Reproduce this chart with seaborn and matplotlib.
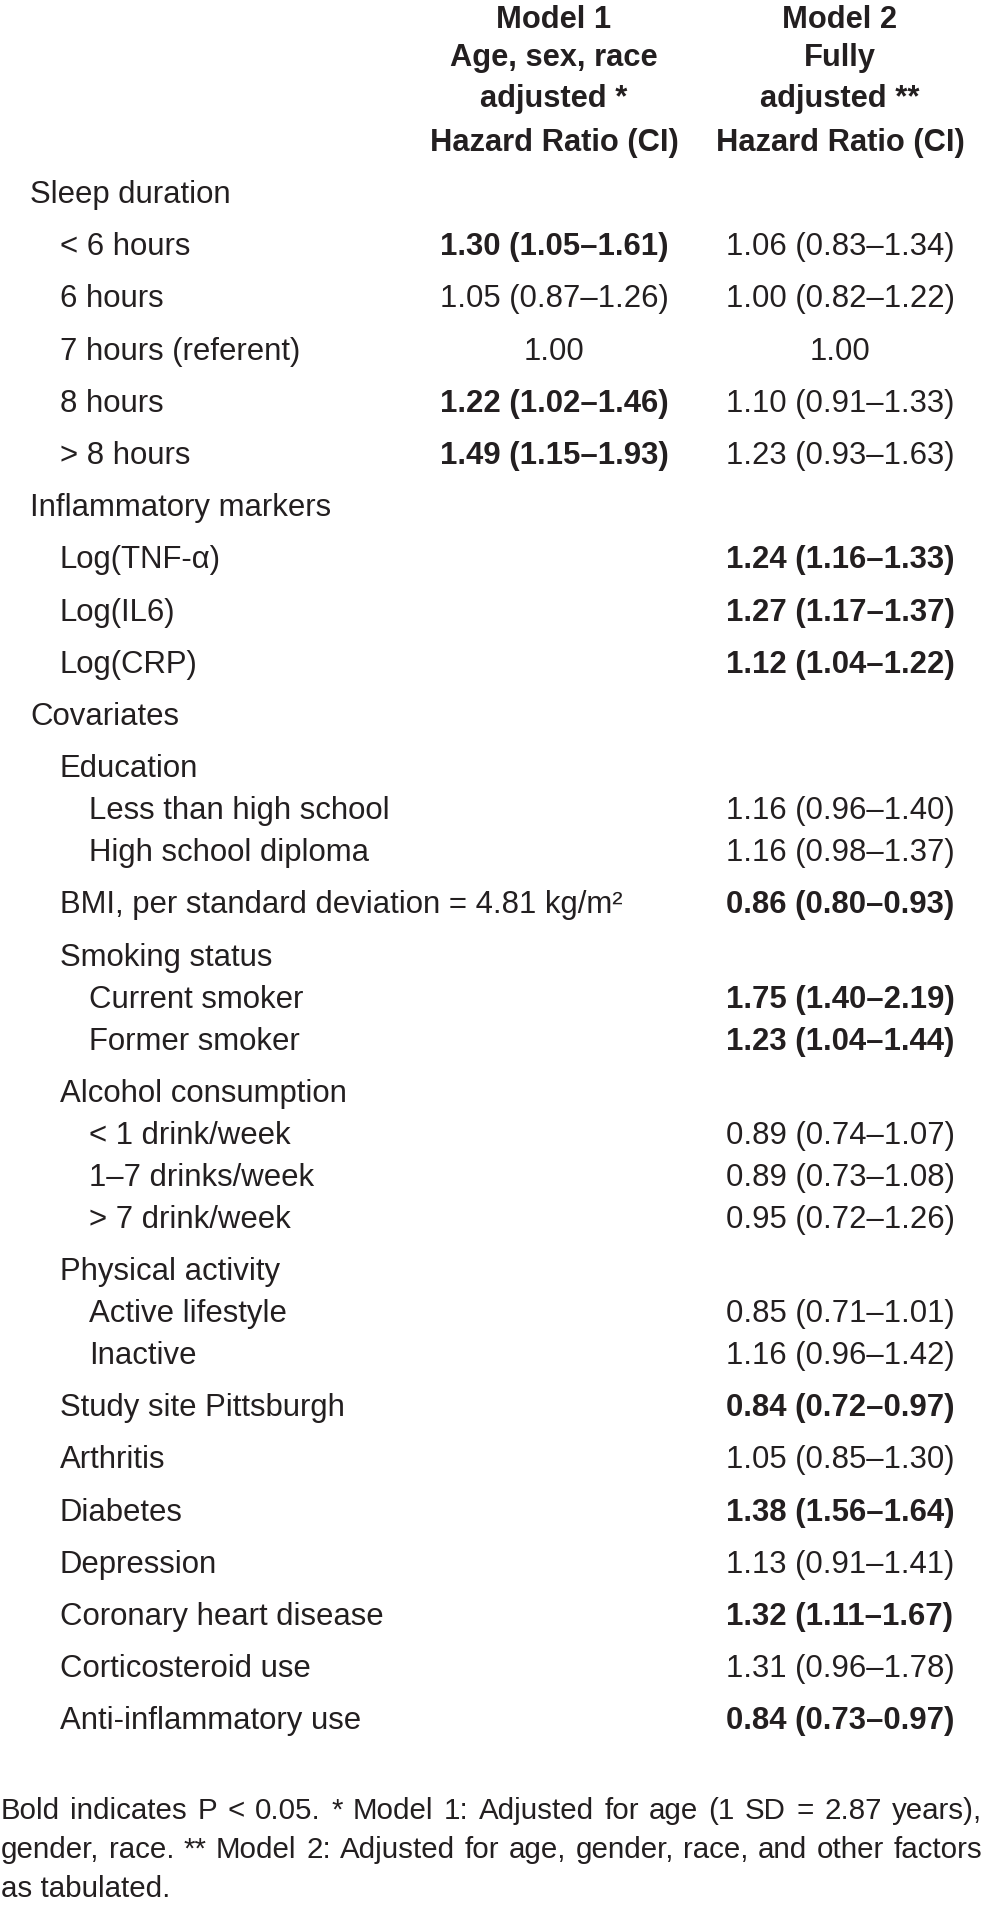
import matplotlib
matplotlib.use("Agg")
import matplotlib.pyplot as plt
import seaborn as sns

# ---- table content ----
labels = [
    "Sleep duration", "< 6 hours", "6 hours", "7 hours (referent)", "8 hours", "> 8 hours",
    "Inflammatory markers", "Log(TNF-α)", "Log(IL6)", "Log(CRP)",
    "Covariates", "Education", "Less than high school", "High school diploma",
    "BMI, per standard deviation = 4.81 kg/m²",
    "Smoking status", "Current smoker", "Former smoker",
    "Alcohol consumption", "< 1 drink/week", "1–7 drinks/week", "> 7 drink/week",
    "Physical activity", "Active lifestyle", "Inactive",
    "Study site Pittsburgh", "Arthritis", "Diabetes", "Depression",
    "Coronary heart disease", "Corticosteroid use", "Anti-inflammatory use",
]
levels = [0, 1, 1, 1, 1, 1,
          0, 1, 1, 1,
          0, 1, 2, 2,
          1,
          1, 2, 2,
          1, 2, 2, 2,
          1, 2, 2,
          1, 1, 1, 1, 1, 1, 1]
model1 = ["", "1.30 (1.05–1.61)", "1.05 (0.87–1.26)", "1.00", "1.22 (1.02–1.46)", "1.49 (1.15–1.93)",
          "", "", "", "",
          "", "", "", "",
          "",
          "", "", "",
          "", "", "", "",
          "", "", "",
          "", "", "", "", "", "", ""]
model2 = ["", "1.06 (0.83–1.34)", "1.00 (0.82–1.22)", "1.00", "1.10 (0.91–1.33)", "1.23 (0.93–1.63)",
          "", "1.24 (1.16–1.33)", "1.27 (1.17–1.37)", "1.12 (1.04–1.22)",
          "", "", "1.16 (0.96–1.40)", "1.16 (0.98–1.37)",
          "0.86 (0.80–0.93)",
          "", "1.75 (1.40–2.19)", "1.23 (1.04–1.44)",
          "", "0.89 (0.74–1.07)", "0.89 (0.73–1.08)", "0.95 (0.72–1.26)",
          "", "0.85 (0.71–1.01)", "1.16 (0.96–1.42)",
          "0.84 (0.72–0.97)", "1.05 (0.85–1.30)", "1.38 (1.56–1.64)", "1.13 (0.91–1.41)",
          "1.32 (1.11–1.67)", "1.31 (0.96–1.78)", "0.84 (0.73–0.97)"]
bold1 = [False, True, False, False, True, True] + [False] * 26
bold2 = [False, False, False, False, False, False,
         False, True, True, True,
         False, False, False, False,
         True,
         False, True, True,
         False, False, False, False,
         False, False, False,
         True, False, True, False, True, False, True]

header1 = ["Model 1", "Age, sex, race", "adjusted *", "Hazard Ratio (CI)"]
header2 = ["Model 2", "Fully", "adjusted **", "Hazard Ratio (CI)"]

footnote = [
    "Bold indicates P < 0.05. * Model 1: Adjusted for age (1 SD = 2.87 years),",
    "gender, race. ** Model 2: Adjusted for age, gender, race, and other factors",
    "as tabulated.",
]

# ---- style ----
sns.set_theme(style="white")
plt.rcParams["font.family"] = ["Liberation Sans", "DejaVu Sans"]
INK = "#231f20"

W, H = 984, 1909
fig = plt.figure(figsize=(W / 100, H / 100), dpi=100)
ax = fig.add_axes([0, 0, 1, 1])
ax.set_xlim(0, W)
ax.set_ylim(H, 0)
ax.axis("off")
renderer = fig.canvas.get_renderer()


def text_width(s, size, weight="normal"):
    t = ax.text(0, 0, s, fontsize=size, fontweight=weight)
    w = t.get_window_extent(renderer).width
    t.remove()
    return w


# size the font so a label is as wide as in the reference (condensed face there)
FS = 20 * 200 / text_width("Sleep duration", 20)
FS_HEAD = 20 * 248 / text_width("Hazard Ratio (CI)", 20, "bold")

indent_x = {0: 30, 1: 60, 2: 89}
col1_x, col2_x = 554, 840
base_off = 11  # baseline below visual centre of the row

# header
head_y = [17, 55, 96, 140]
for y, t1, t2 in zip(head_y, header1, header2):
    ax.text(col1_x, y + base_off, t1, ha="center", va="baseline", fontsize=FS_HEAD,
            fontweight="bold", color=INK)
    ax.text(col2_x, y + base_off, t2, ha="center", va="baseline", fontsize=FS_HEAD,
            fontweight="bold", color=INK)

# body rows
y = 192
for i, lab in enumerate(labels):
    if i > 0:
        y += 42 if levels[i] == 2 else 52.2
    ax.text(indent_x[levels[i]], y + base_off, lab, ha="left", va="baseline",
            fontsize=FS, color=INK)
    if model1[i]:
        ax.text(col1_x, y + base_off, model1[i], ha="center", va="baseline", fontsize=FS,
                fontweight="bold" if bold1[i] else "normal", color=INK)
    if model2[i]:
        ax.text(col2_x, y + base_off, model2[i], ha="center", va="baseline", fontsize=FS,
                fontweight="bold" if bold2[i] else "normal", color=INK)

# footnote, first two lines justified to the full width
foot_y = [1808, 1847, 1886]
left, right = 1, 982
FS_FOOT = FS
for line in footnote[:2]:
    nat = text_width(line, FS_FOOT)
    if nat > (right - left) * 0.985:
        FS_FOOT *= (right - left) * 0.985 / nat

for k, (fy, line) in enumerate(zip(foot_y, footnote)):
    if k == len(footnote) - 1:
        ax.text(left, fy + base_off, line, ha="left", va="baseline", fontsize=FS_FOOT, color=INK)
        continue
    words = line.split(" ")
    objs = [ax.text(0, fy + base_off, w, ha="left", va="baseline", fontsize=FS_FOOT, color=INK)
            for w in words]
    widths = [o.get_window_extent(renderer).width for o in objs]
    gap = (right - left - sum(widths)) / (len(words) - 1)
    x = left
    for o, w in zip(objs, widths):
        o.set_x(x)
        x += w + gap

fig.savefig("out.png", dpi=100)
